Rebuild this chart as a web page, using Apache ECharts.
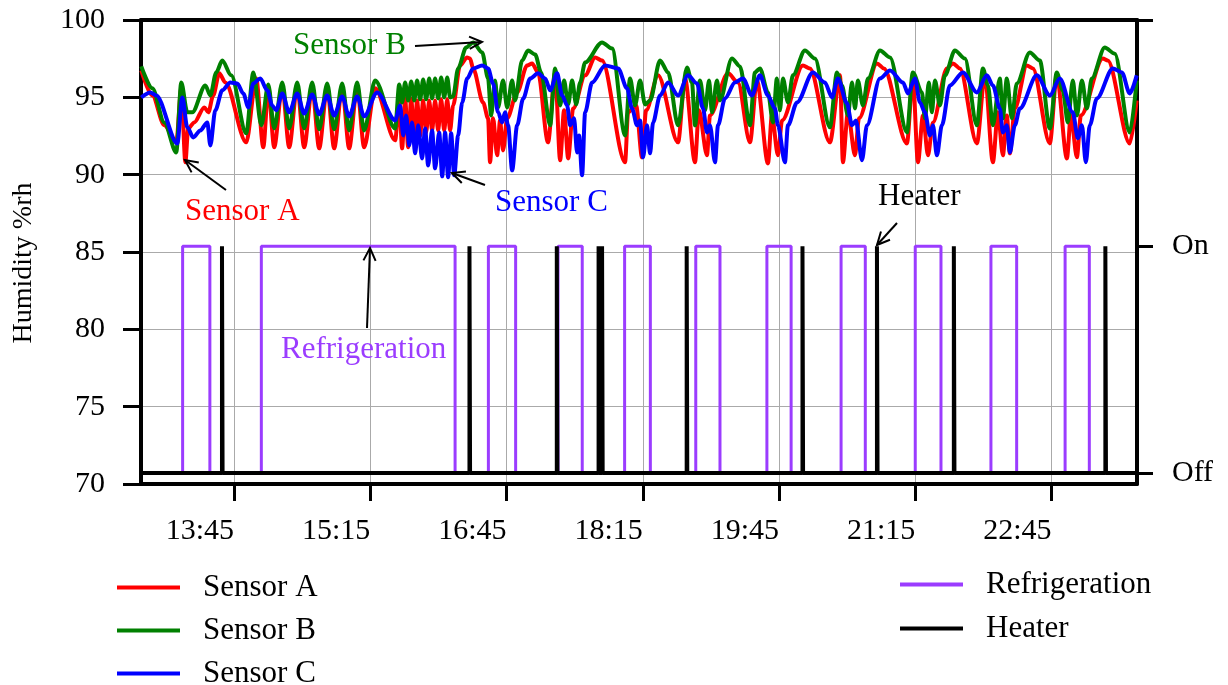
<!DOCTYPE html>
<html>
<head>
<meta charset="utf-8">
<title>Humidity, refrigeration and heater</title>
<script src="https://cdn.jsdelivr.net/npm/echarts/dist/echarts.min.js"></script>
<style>
html, body { margin: 0; padding: 0; background: #fff; }
#chart { width: 1228px; height: 685px; }
</style>
</head>
<body>
<div id="chart"></div>
<script type="text/javascript">
// time = minutes after midnight, humidity in %rh
var sensorA = [[763.7,96.74],[771.0,95.12],[778.9,93.19],[786.8,92.09],[790.1,95.58],[792.8,90.80],[794.7,92.99],[798.7,93.38],[805.3,94.35],[808.0,94.03],[811.2,95.12],[815.2,96.55],[819.2,95.96],[833.0,92.09],[839.6,96.22],[844.3,91.77],[847.6,95.58],[851.5,91.77],[856.8,95.70],[861.4,91.77],[866.7,95.70],[871.3,91.77],[876.6,95.64],[881.2,91.70],[886.5,95.64],[891.1,91.70],[896.4,95.64],[901.0,91.70],[906.3,95.64],[910.9,91.77],[918.2,95.58],[931.4,92.22],[934.1,94.80],[936.0,91.70],[938.0,94.93],[940.0,91.77],[942.0,94.93],[944.0,92.22],[945.9,94.80],[947.9,92.54],[949.9,94.80],[951.9,92.73],[953.9,94.80],[955.8,92.86],[957.8,94.80],[959.8,92.86],[961.8,94.87],[963.8,92.86],[965.8,94.87],[967.7,92.86],[969.7,94.48],[974.3,97.06],[978.9,97.58],[980.9,97.51],[982.9,96.87],[989.5,94.67],[992.8,93.64],[994.1,90.80],[996.1,93.64],[998.8,91.25],[1000.7,93.51],[1002.7,91.57],[1005.4,93.64],[1012.0,95.32],[1018.6,97.06],[1021.9,97.19],[1025.8,96.61],[1032.4,92.09],[1037.1,96.61],[1040.4,90.93],[1043.0,94.16],[1045.7,91.05],[1049.0,94.28],[1056.9,96.42],[1063.5,97.58],[1068.1,97.38],[1083.3,90.80],[1085.3,94.03],[1090.6,94.48],[1094.5,91.12],[1097.2,94.16],[1105.1,96.42],[1118.3,92.09],[1122.9,96.22],[1129.5,90.80],[1132.1,94.16],[1137.4,91.25],[1139.4,93.83],[1151.3,96.55],[1157.9,95.96],[1165.8,92.09],[1170.4,96.09],[1177.7,90.73],[1180.3,93.83],[1184.3,91.25],[1187.0,93.51],[1200.8,97.06],[1205.4,96.87],[1218.6,92.09],[1225.3,96.42],[1227.2,90.80],[1230.5,94.03],[1235.2,91.25],[1237.8,93.64],[1249.7,97.19],[1254.3,96.87],[1269.5,92.02],[1273.4,96.29],[1276.8,90.80],[1280.1,93.83],[1283.4,91.25],[1286.7,93.38],[1295.9,96.87],[1299.9,97.19],[1304.5,96.87],[1315.7,92.02],[1321.0,96.42],[1326.3,90.80],[1329.6,94.03],[1332.9,91.25],[1335.5,93.83],[1337.5,91.38],[1340.8,94.28],[1348.7,97.06],[1352.7,96.87],[1363.9,92.02],[1368.5,96.42],[1375.2,91.05],[1377.8,93.83],[1381.8,91.12],[1384.4,93.83],[1398.9,97.51],[1402.2,97.38],[1416.7,92.02],[1421.3,94.80]];

var sensorB = [[763.7,97.00],[771.0,95.58],[778.9,93.38],[786.8,91.44],[790.1,95.96],[794.1,94.03],[797.4,94.03],[806.0,95.77],[809.3,95.12],[813.2,96.61],[817.2,97.38],[823.1,96.42],[833.0,92.67],[837.7,96.61],[843.0,93.19],[847.6,95.83],[851.5,92.99],[856.8,95.96],[861.4,92.99],[866.7,95.96],[871.3,92.99],[876.6,95.96],[881.2,92.93],[886.5,95.90],[891.1,92.93],[896.4,95.90],[901.0,92.86],[906.3,95.96],[910.9,92.86],[918.2,96.09],[931.4,92.99],[934.1,95.83],[936.0,94.67],[938.0,95.96],[940.0,94.80],[942.0,96.03],[944.0,94.80],[945.9,96.09],[947.9,94.87],[949.9,96.16],[951.9,94.87],[953.9,96.22],[955.8,94.93],[957.8,96.22],[959.8,94.93],[961.8,96.29],[963.8,94.99],[965.8,96.29],[967.7,94.99],[969.7,95.06],[973.0,96.87],[978.3,98.22],[982.9,98.55],[988.9,97.90],[992.8,96.22],[994.8,93.83],[997.4,96.09],[999.4,94.35],[1002.7,96.09],[1005.4,94.35],[1008.7,96.09],[1010.6,94.80],[1015.3,97.38],[1019.2,98.03],[1023.9,97.77],[1027.8,96.61],[1033.8,93.19],[1037.1,96.87],[1040.4,94.48],[1043.0,96.09],[1045.7,94.54],[1048.3,96.09],[1051.0,94.54],[1053.6,95.96],[1056.9,97.26],[1068.1,98.55],[1074.7,98.16],[1083.3,92.54],[1086.6,96.22],[1089.9,94.48],[1093.2,96.09],[1096.5,94.54],[1099.8,94.80],[1106.4,97.38],[1111.7,96.61],[1118.3,93.19],[1124.2,96.93],[1127.5,95.96],[1129.5,93.19],[1132.8,96.09],[1136.1,94.16],[1138.8,96.09],[1140.7,94.03],[1144.0,96.09],[1146.0,94.80],[1153.9,97.51],[1159.2,97.00],[1165.8,93.19],[1169.1,96.61],[1172.4,96.87],[1177.7,95.32],[1181.0,93.38],[1183.6,96.22],[1185.6,94.16],[1187.6,96.22],[1190.9,94.67],[1194.2,96.42],[1202.1,98.03],[1208.7,97.51],[1218.6,93.06],[1223.3,96.61],[1226.6,95.77],[1230.5,93.83],[1233.2,95.96],[1235.2,94.28],[1237.1,96.09],[1240.4,94.48],[1243.8,96.22],[1251.7,98.03],[1258.3,97.58],[1269.5,92.73],[1273.4,96.61],[1279.4,95.32],[1281.4,93.64],[1284.0,95.96],[1286.0,94.03],[1288.0,96.09],[1291.3,94.48],[1294.6,96.42],[1301.2,98.03],[1307.8,97.51],[1315.7,93.19],[1319.7,96.87],[1323.0,95.77],[1326.3,93.19],[1330.9,96.22],[1332.9,93.64],[1335.5,96.22],[1338.8,93.64],[1342.1,95.90],[1350.7,97.90],[1357.3,97.38],[1363.9,92.99],[1368.5,96.61],[1372.5,95.45],[1375.8,93.38],[1379.1,96.09],[1381.8,93.83],[1385.1,96.09],[1388.4,94.28],[1391.6,96.22],[1400.2,98.22],[1406.8,97.82],[1416.7,92.73],[1421.3,96.09]];

var sensorC = [[763.7,94.99],[769.6,95.32],[773.6,95.12],[787.5,92.02],[790.8,94.99],[794.1,93.06],[798.0,92.41],[802.7,92.86],[807.3,93.38],[809.3,91.89],[812.6,94.16],[817.2,95.45],[822.5,95.96],[827.1,95.90],[831.1,95.25],[834.4,94.35],[837.7,95.90],[842.3,96.22],[846.9,95.45],[850.2,94.48],[852.8,94.16],[856.8,95.25],[861.4,94.03],[866.7,95.25],[871.3,93.96],[876.6,95.19],[881.2,93.90],[886.5,95.12],[891.1,93.83],[896.4,95.06],[901.0,93.77],[906.3,95.06],[910.9,93.77],[919.5,95.32],[931.4,93.51],[934.7,94.48],[936.7,92.54],[938.7,93.83],[940.7,91.89],[942.6,93.38],[944.6,91.38],[946.6,93.19],[949.2,91.05],[951.2,92.99],[953.2,90.60],[955.8,92.86],[957.8,90.41],[960.5,92.73],[962.5,89.89],[964.4,92.73],[966.4,89.83],[968.4,92.67],[970.4,89.96],[973.0,92.54],[975.7,94.67],[979.0,96.22],[982.9,96.87],[988.9,97.06],[992.8,96.87],[996.1,95.90],[999.4,94.03],[1002.1,93.38],[1004.0,94.03],[1006.0,93.19],[1008.7,90.28],[1012.0,93.19],[1016.0,94.93],[1020.6,96.22],[1025.8,96.55],[1030.5,96.22],[1033.8,95.45],[1038.4,96.55],[1041.7,95.12],[1045.0,94.48],[1047.0,93.19],[1049.6,93.64],[1051.6,91.44],[1052.9,92.54],[1054.9,89.96],[1056.9,94.03],[1061.5,95.96],[1070.1,97.06],[1078.7,96.87],[1084.6,95.58],[1087.9,94.28],[1091.2,93.19],[1093.2,93.51],[1095.2,91.12],[1097.8,93.19],[1099.8,91.38],[1101.8,93.38],[1106.4,95.12],[1111.7,95.96],[1118.3,95.12],[1124.9,96.42],[1130.8,95.90],[1134.8,94.28],[1137.4,92.73],[1139.4,93.19],[1142.7,90.80],[1144.7,93.19],[1149.3,94.93],[1155.9,95.96],[1161.2,96.22],[1167.1,95.12],[1172.4,96.42],[1177.7,95.12],[1182.3,94.28],[1184.3,93.19],[1188.9,90.80],[1190.9,93.19],[1196.9,94.67],[1207.4,96.61],[1215.3,95.96],[1220.0,94.99],[1223.9,96.22],[1229.9,94.61],[1233.2,93.19],[1235.8,93.51],[1239.8,90.93],[1243.1,93.19],[1251.7,96.22],[1258.3,96.74],[1266.9,95.96],[1270.2,95.25],[1274.8,96.22],[1278.1,94.67],[1281.4,94.03],[1284.7,92.54],[1286.7,93.19],[1289.3,91.25],[1292.6,93.19],[1297.9,95.77],[1306.5,96.61],[1315.7,95.32],[1322.3,96.42],[1326.3,95.77],[1330.9,94.28],[1332.9,92.73],[1335.5,93.19],[1337.5,91.44],[1340.8,93.19],[1344.1,94.28],[1355.3,96.42],[1363.9,95.12],[1370.5,96.22],[1379.1,94.03],[1382.4,92.35],[1385.1,93.19],[1387.7,90.80],[1390.3,93.19],[1395.0,94.93],[1405.5,96.87],[1411.5,96.61],[1416.7,95.25],[1421.3,96.42]];

// refrigeration running periods [start, end] in minutes
var refrigOn = [[791,809],[843,971],[993,1011],[1039,1055],[1083,1100],[1130,1146],[1177,1193],[1226,1242],[1275,1292],[1325,1342],[1374,1390]];
// heater bursts (start, minutes)
var heaterOn = [817.0, 980.5, 1038.2, 1065.8, 1068.1, 1124.0, 1200.5, 1249.7, 1300.5, 1400.6];
var heaterLen = 0.4;

var timeStart = 763.5, timeEnd = 1421.5;
var timeTicks = [825, 915, 1005, 1095, 1185, 1275, 1365];
var stateTicks = [0, 1];
var stateNames = ['Off', 'On'];

var font = 'Liberation Serif';

// step lines for the on/off series
var refData = [[timeStart, 0]];
refrigOn.forEach(function(p) {
	refData.push([p[0], 0], [p[0], 1], [p[1], 1], [p[1], 0]);
});
refData.push([timeEnd, 0]);

var heatData = [[timeStart, 0]];
heaterOn.forEach(function(t) {
	heatData.push([t, 0], [t, 1], [t + heaterLen, 1], [t + heaterLen, 0]);
});
heatData.push([timeEnd, 0]);

function clock(v) {
	var h = Math.floor(v / 60), m = Math.round(v - h * 60);
	return h + ':' + (m < 10 ? '0' : '') + m;
}

// callout labels with arrows (pixel layout)
var notes = [
	{ text: 'Sensor B', color: '#008000', x: 293, y: 46, from: [415, 46], to: [482, 42] },
	{ text: 'Sensor A', color: '#ff0000', x: 185, y: 212, from: [226, 190], to: [185, 160] },
	{ text: 'Sensor C', color: '#0000ff', x: 495, y: 203, from: [485, 185], to: [452, 173] },
	{ text: 'Heater', color: '#000000', x: 878, y: 197, from: [897, 223], to: [877, 245] },
	{ text: 'Refrigeration', color: '#9b3cff', x: 281, y: 350, from: [367, 328], to: [370, 248] }
];

var graphics = [];
notes.forEach(function(n) {
	graphics.push({
		type: 'text', left: n.x, top: n.y - 16, z: 100,
		style: { text: n.text, fill: n.color, font: '31px "' + font + '"' }
	});
	var x1 = n.from[0], y1 = n.from[1], x2 = n.to[0], y2 = n.to[1];
	var a = Math.atan2(y2 - y1, x2 - x1), h = 14, s = 0.45;
	graphics.push({
		type: 'line', z: 100, shape: { x1: x1, y1: y1, x2: x2, y2: y2 },
		style: { stroke: '#000', lineWidth: 2 }
	});
	graphics.push({
		type: 'polyline', z: 100,
		shape: { points: [[x2 - h * Math.cos(a - s), y2 - h * Math.sin(a - s)], [x2, y2], [x2 - h * Math.cos(a + s), y2 - h * Math.sin(a + s)]] },
		style: { stroke: '#000', lineWidth: 2, fill: null }
	});
});

var myChart = echarts.init(document.getElementById('chart'));

var lineSeries = function(name, data, color) {
	return {
		name: name, type: 'line', data: data, xAxisIndex: 0, yAxisIndex: 0,
		showSymbol: false, symbol: 'none', smooth: 0.3, smoothMonotone: 'x',
		lineStyle: { color: color, width: 4 }, itemStyle: { color: color }
	};
};

var legendText = { fontFamily: font, fontSize: 31, color: '#000', padding: [0, 0, 0, 18] };

var option = {
	animation: false,
	backgroundColor: '#fff',
	grid: { left: 141, right: 91, top: 20, bottom: 201, containLabel: false, outerBoundsMode: 'none' },
	legend: [
		{
			data: ['Sensor A', 'Sensor B', 'Sensor C'], orient: 'vertical', left: 117, top: 572, height: 160,
			padding: 0, icon: 'rect', itemWidth: 63, itemHeight: 4, itemGap: 12, selectedMode: false, textStyle: legendText
		},
		{
			data: ['Refrigeration', 'Heater'], orient: 'vertical', left: 900, top: 569, height: 120,
			padding: 0, icon: 'rect', itemWidth: 63, itemHeight: 4, itemGap: 13, selectedMode: false, textStyle: legendText
		}
	],
	xAxis: [
		{
			type: 'value', min: timeStart, max: timeEnd, position: 'bottom',
			axisLine: { show: true, onZero: false, lineStyle: { color: '#000', width: 4 } },
			axisTick: { show: true, customValues: timeTicks, length: 17, lineStyle: { color: '#000', width: 3 } },
			axisLabel: {
				customValues: timeTicks, formatter: clock, align: 'right', margin: 32,
				fontFamily: font, fontSize: 30, color: '#000'
			},
			splitLine: { show: true, lineStyle: { color: '#aaaaaa', width: 1 } }
		},
		{
			type: 'value', min: timeStart, max: timeEnd, position: 'top',
			axisLine: { show: true, onZero: false, lineStyle: { color: '#000', width: 4 } },
			axisTick: { show: false }, axisLabel: { show: false }, splitLine: { show: false }
		}
	],
	yAxis: [
		{
			type: 'value', min: 70, max: 100, interval: 5, position: 'left',
			name: 'Humidity %rh', nameLocation: 'middle', nameGap: 103, nameRotate: 90,
			nameTextStyle: { fontFamily: font, fontSize: 28, color: '#000', padding: [0, 22, 0, 0] },
			axisLine: { show: true, onZero: false, lineStyle: { color: '#000', width: 4 } },
			axisTick: { show: true, length: 18, lineStyle: { color: '#000', width: 3 } },
			axisLabel: { margin: 36, fontFamily: font, fontSize: 30, color: '#000' },
			splitLine: { show: true, lineStyle: { color: '#aaaaaa', width: 1 } }
		},
		{
			type: 'value', min: -0.0485, max: 1.998, position: 'right',
			axisLine: { show: true, onZero: false, lineStyle: { color: '#000', width: 4 } },
			axisTick: { show: true, customValues: stateTicks.concat([1.998]), length: 16, lineStyle: { color: '#000', width: 3 } },
			axisLabel: {
				customValues: stateTicks, margin: 35, fontFamily: font, fontSize: 30, color: '#000',
				formatter: function(v) { return stateNames[Math.round(v)]; }
			},
			splitLine: { show: false }
		}
	],
	graphic: graphics,
	series: [
		{
			name: 'Refrigeration', type: 'line', data: refData, yAxisIndex: 1,
			showSymbol: false, symbol: 'none', z: 2,
			lineStyle: { color: '#9b3cff', width: 3 }, itemStyle: { color: '#9b3cff' }
		},
		{
			name: 'Heater', type: 'line', data: heatData, yAxisIndex: 1,
			showSymbol: false, symbol: 'none', z: 3,
			lineStyle: { color: '#000', width: 4 }, itemStyle: { color: '#000' }
		},
		lineSeries('Sensor A', sensorA, '#ff0000'),
		lineSeries('Sensor B', sensorB, '#008000'),
		lineSeries('Sensor C', sensorC, '#0000ff')
	]
};
myChart.setOption(option);
</script>
</body>
</html>
